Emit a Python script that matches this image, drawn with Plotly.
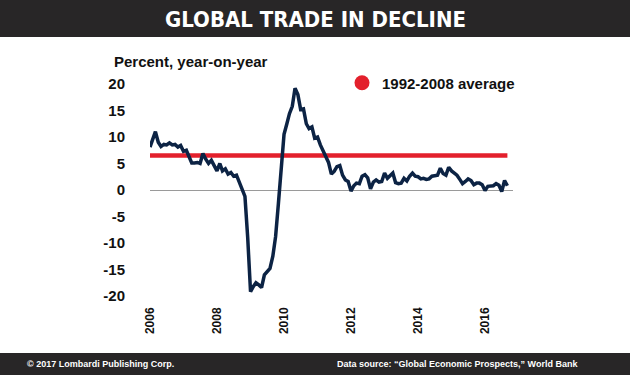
import pandas as pd
import plotly.graph_objects as go

# ---------------- data ----------------
start_month = "2006-01-01"
trade_growth = [
    8.1, 9.8, 11.0, 9.0, 8.2, 8.6, 8.5, 8.9, 8.5, 8.6, 8.1, 8.4,      # 2006
    7.3, 7.5, 6.4, 5.1, 5.1, 5.2, 5.0, 6.9, 5.8, 5.0, 5.6, 4.6,       # 2007
    3.6, 5.0, 3.6, 4.0, 3.0, 3.3, 2.6, 2.8, 1.4, 0.4, -1.2, -9.0,     # 2008
    -19.2, -18.2, -17.5, -17.9, -18.4, -16.0, -15.3, -14.8, -12.5, -8.8, -2.5, 4.0,  # 2009
    10.5, 12.5, 14.4, 15.8, 19.2, 18.0, 15.2, 15.3, 12.5, 11.6, 11.9, 9.8,  # 2010
    10.0, 8.5, 7.4, 6.2, 5.2, 3.0, 3.5, 4.4, 4.6, 2.8, 1.9, 1.6,      # 2011
    -0.2, 0.8, 1.3, 1.2, 2.6, 2.9, 2.3, 0.2, 1.5, 1.9, 1.5, 1.6,      # 2012
    3.2, 2.2, 2.6, 3.2, 1.4, 1.2, 1.3, 2.2, 1.7, 2.6, 3.2, 2.6,       # 2013
    2.5, 2.1, 2.2, 2.0, 2.1, 2.6, 2.7, 2.8, 4.1, 3.1, 2.8, 4.3,       # 2014
    3.6, 3.2, 2.8, 2.0, 1.2, 1.6, 2.1, 1.8, 1.0, 1.3, 1.3, 1.0,       # 2015
    -0.1, 0.7, 0.8, 0.8, 1.2, 0.9, -0.3, 1.8, 0.8,                    # 2016
]
average_1992_2008 = 6.5
average_label = "1992-2008 average"

y_ticks = [-20, -15, -10, -5, 0, 5, 10, 15, 20]
y_tick_labels = ["-20", "-15", "-10", "-5", "0", "5", "10", "15", "20"]
x_ticks = ["2006-01-01", "2008-01-01", "2010-01-01", "2012-01-01", "2014-01-01", "2016-01-01"]
x_tick_labels = ["2006", "2008", "2010", "2012", "2014", "2016"]

title_text = "GLOBAL TRADE IN DECLINE"
y_title = "Percent, year-on-year"
footer_left = "© 2017 Lombardi Publishing Corp."
footer_right = "Data source: “Global Economic Prospects,” World Bank"

dates = pd.date_range(start_month, periods=len(trade_growth), freq="MS")

# ---------------- layout geometry (pixels) ----------------
W, H = 630, 375
PL, PR, PT, PB = 150, 513, 84, 296   # plot area edges


def px_x(x):
    return (x - PL) / (PR - PL)


def px_y(y):
    return (PB - y) / (PB - PT)


NAVY = "#0c2344"
RED = "#e3202c"
DARK = "#282627"
FONT = "Liberation Sans, Arial, sans-serif"

fig = go.Figure()

fig.add_trace(go.Scatter(
    x=[dates[0], dates[-1]], y=[average_1992_2008, average_1992_2008],
    mode="lines", line=dict(color=RED, width=4.5), showlegend=False,
    hoverinfo="skip",
))
fig.add_trace(go.Scatter(
    x=dates, y=trade_growth, mode="lines",
    line=dict(color=NAVY, width=3.5), showlegend=False,
))
# legend entry
fig.add_trace(go.Scatter(
    x=[None], y=[None], mode="markers", name=average_label,
    marker=dict(color=RED, size=15), showlegend=True,
))

fig.update_layout(
    width=W, height=H,
    margin=dict(l=PL, r=W - PR, t=PT, b=H - PB, pad=0),
    paper_bgcolor="white", plot_bgcolor="white",
    font=dict(family=FONT, color="#111111", size=15),
    showlegend=True,
    legend=dict(
        x=px_x(342), y=px_y(83), xanchor="left", yanchor="middle",
        font=dict(size=15, family=FONT, color="#111111", weight="bold"),
        bgcolor="rgba(0,0,0,0)", borderwidth=0,
    ),
    xaxis=dict(
        type="date", range=["2006-01-01", "2016-11-01"],
        tickmode="array", tickvals=x_ticks, ticktext=x_tick_labels,
        tickangle=-90, showgrid=False, zeroline=False, showline=False,
        ticks="", ticklabelstandoff=8,
        tickfont=dict(size=12, family=FONT, color="#111111", weight="bold"),
    ),
    yaxis=dict(
        range=[-20, 20], tickmode="array", tickvals=y_ticks, ticktext=y_tick_labels,
        showgrid=False, zeroline=True, zerolinecolor="#9a9a9a", zerolinewidth=1.2,
        showline=False, ticks="", ticklabelstandoff=24,
        tickfont=dict(size=15, family=FONT, color="#111111", weight="bold"),
    ),
    shapes=[
        dict(type="rect", xref="paper", yref="paper",
             x0=px_x(0), x1=px_x(W), y0=px_y(0), y1=px_y(37),
             fillcolor=DARK, line=dict(width=0), layer="below"),
        dict(type="rect", xref="paper", yref="paper",
             x0=px_x(0), x1=px_x(W), y0=px_y(353), y1=px_y(H),
             fillcolor=DARK, line=dict(width=0), layer="below"),
    ],
    annotations=[
        dict(text="<span style='font-stretch:condensed'>" + title_text + "</span>",
             xref="paper", yref="paper",
             x=px_x(315), y=px_y(19), xanchor="center", yanchor="middle",
             showarrow=False,
             font=dict(family="DejaVu Sans Condensed, Liberation Sans Narrow, Arial Narrow, sans-serif",
                       size=22, color="white", weight="bold")),
        dict(text=y_title, xref="paper", yref="paper",
             x=px_x(112), y=px_y(61), xanchor="left", yanchor="middle",
             showarrow=False,
             font=dict(family=FONT, size=15, color="#111111", weight="bold")),
        dict(text=footer_left, xref="paper", yref="paper",
             x=px_x(25), y=px_y(364), xanchor="left", yanchor="middle",
             showarrow=False,
             font=dict(family=FONT, size=9, color="white", weight="bold")),
        dict(text=footer_right, xref="paper", yref="paper",
             x=px_x(580), y=px_y(364), xanchor="right", yanchor="middle",
             showarrow=False,
             font=dict(family=FONT, size=9, color="white", weight="bold")),
    ],
)

fig.write_html(
    "out.html",
    config={"displayModeBar": False},
    post_script="document.body.style.margin='0';document.body.style.overflow='hidden';",
)
